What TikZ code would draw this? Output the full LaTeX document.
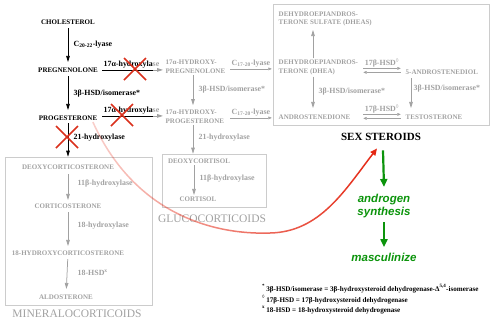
\documentclass[tikz,border=0pt]{standalone}
\usepackage{fontspec}
\setmainfont{Liberation Serif}
\setsansfont{Liberation Sans}
\usetikzlibrary{arrows.meta,fadings}

\definecolor{fadegrey}{gray}{0.63}
\definecolor{boxgrey}{gray}{0.8}
\definecolor{xred}{RGB}{218,48,28}
\definecolor{pathred}{RGB}{228,38,18}
\definecolor{andgreen}{RGB}{12,148,12}

% red path starts pale and ends fully red
\tikzfading[name=pinkfade, left color=transparent!78, right color=transparent!0]

% red cross over a blocked enzyme
\newcommand{\blocked}[1]{%
  \draw[xline] (#1) ++(-11,-11) -- ++(22,22);
  \draw[xline] (#1) ++(11,-11) -- ++(-22,22);}

\begin{document}
\begin{tikzpicture}[x=1pt,y=-1pt,
  every node/.style={inner sep=1.5pt},
  steroid/.style={font=\fontsize{7}{8.6}\selectfont\bfseries},
  enz/.style={font=\fontsize{7.9}{9}\selectfont\bfseries},
  dim/.style={text=fadegrey},
  box/.style={draw=boxgrey, line width=0.7pt, inner sep=0pt},
  family/.style={font=\fontsize{11.5}{12}\selectfont, text=fadegrey},
  conv/.style={-{Triangle[length=6pt,width=3.6pt]}, line width=0.75pt},
  offconv/.style={conv, draw=fadegrey},
  thinarrow/.style={-{Triangle[length=3.5pt,width=2.8pt]}, line width=0.5pt, draw=fadegrey},
  xline/.style={draw=xred, line width=1.6pt},
  grarrow/.style={-{Triangle[length=8pt,width=7pt]}, line width=2.2pt, draw=andgreen},
  green text/.style={font=\fontsize{11.5}{13}\selectfont\sffamily\bfseries\itshape, text=andgreen, align=center},
  note/.style={font=\fontsize{7.1}{8}\selectfont\bfseries, anchor=base west, inner sep=0pt}]
\useasboundingbox (0,0) rectangle (491,325);

% group boxes
\node[box, minimum width=147pt, minimum height=148pt] (minbox) at (78.5,231) {};
\node[box, minimum width=104pt, minimum height=53pt] (glubox) at (214,180.5) {};
\node[box, minimum width=216pt, minimum height=121pt] (sexbox) at (381,64.5) {};

% main pathway
\node[steroid] (chol) at (68,22) {CHOLESTEROL};
\node[steroid] (preg) at (68,70) {PREGNENOLONE};
\node[steroid] (prog) at (68,118) {PROGESTERONE};
\draw[conv, shorten <=2pt, shorten >=4pt] (chol) -- (preg);
\draw[conv, shorten <=2pt, shorten >=4pt] (preg) -- (prog);
\draw[conv, shorten <=1pt] (prog) -- (prog |- minbox.north);
\node[enz, anchor=west] (scc) at (72,45) {C\textsubscript{20-22}-lyase};
\node[enz, anchor=west] (hsd) at (72,94) {3β-HSD/isomerase*};
\node[enz, anchor=west] (cyp21) at (72,138) {21-hydroxylase};

% 17-hydroxylation
\node[enz, anchor=base west] (cypa) at (102,66.5) {17α-hydroxyla\textcolor{fadegrey}{se}};
\node[enz, anchor=base west] (cypb) at (102,112.5) {17α-hydroxyla\textcolor{fadegrey}{se}};
\node[steroid, dim, anchor=west, align=left] (ohpreg) at (164,67) {17α-HYDROXY-\\PREGNENOLONE};
\node[steroid, dim, anchor=west, align=left] (ohprog) at (164,116.5) {17α-HYDROXY-\\PROGESTERONE};
\draw[line width=0.75pt] (cypa.south west) -- ([xshift=-8pt]cypa.south east);
\draw[offconv] ([xshift=-8pt]cypa.south east) -- ([xshift=-1pt]cypa.south east -| ohpreg.west);
\draw[line width=0.75pt] (cypb.south west) -- ([xshift=-8pt]cypb.south east);
\draw[offconv] ([xshift=-8pt]cypb.south east) -- ([xshift=-1pt]cypb.south east -| ohprog.west);
\draw[offconv, shorten >=3pt] ([xshift=29pt]ohpreg.south west) -- ([xshift=29pt]ohprog.north west);
\node[enz, dim, anchor=west] at (197,90) {3β-HSD/isomerase*};
\draw[offconv] ([xshift=29pt]ohprog.south west) coordinate (g) -- (g |- glubox.north);
\node[enz, dim, anchor=west] at (197,138) {21-hydroxylase};

% 17,20-lyase
\node[enz, dim, anchor=base west] (lyasea) at (230,65.5) {C\textsubscript{17-20}-lyase};
\node[enz, dim, anchor=base west] (lyaseb) at (230,114.5) {C\textsubscript{17-20}-lyase};
\draw[thinarrow] (lyasea.south west) -- (lyasea.south east);
\draw[thinarrow] (lyaseb.south west) -- (lyaseb.south east);

% sex steroids
\node[steroid, dim, anchor=west, align=left] (dheas) at (277,19) {DEHYDROEPIANDROS-\\TERONE SULFATE (DHEAS)};
\node[steroid, dim, anchor=west, align=left] (dhea) at (277,67.5) {DEHYDROEPIANDROS-\\TERONE (DHEA)};
\node[steroid, dim, anchor=west] (andro) at (277,117) {ANDROSTENEDIONE};
\node[steroid, dim, anchor=west] (adiol) at (404,72) {5-ANDROSTENEDIOL};
\node[steroid, dim, anchor=west] (testo) at (404,117) {TESTOSTERONE};
\draw[offconv, shorten >=2pt] ([xshift=36pt]dhea.north west) -- ([xshift=36pt]dheas.south west);
\draw[offconv, shorten >=5pt] ([xshift=36pt]dhea.south west) -- ([xshift=36pt]andro.north west);
\node[enz, dim, anchor=west] at (317,92) {3β-HSD/isomerase*};
\draw[offconv, shorten <=2pt, shorten >=5pt] ([xshift=7pt]adiol.south west) -- ([xshift=7pt]testo.north west);
\node[enz, dim, anchor=west] at (412,89) {3β-HSD/isomerase*};
\node[enz, dim, anchor=base] (hsda) at (382,65) {17β-HSD\textsuperscript{◊}};
\node[enz, dim, anchor=base] (hsdb) at (382,111) {17β-HSD\textsuperscript{◊}};
\draw[thinarrow] (hsda.south west) -- (hsda.south east);
\draw[thinarrow] ([yshift=-4pt]hsda.south east) -- ([yshift=-4pt]hsda.south west);
\draw[thinarrow] (hsdb.south west) -- (hsdb.south east);
\draw[thinarrow] ([yshift=-4pt]hsdb.south east) -- ([yshift=-4pt]hsdb.south west);
\node[font=\fontsize{11}{12}\selectfont\bfseries] (sexst) at (381,137) {SEX STEROIDS};

% mineralocorticoids
\node[steroid, dim] (doc) at (68,167) {DEOXYCORTICOSTERONE};
\node[steroid, dim] (cort) at (68,206) {CORTICOSTERONE};
\node[steroid, dim] (ohc) at (68,253) {18-HYDROXYCORTICOSTERONE};
\node[steroid, dim] (aldo) at (66,297) {ALDOSTERONE};
\draw[offconv, shorten <=3pt, shorten >=2pt] (doc) -- (cort);
\draw[offconv, shorten <=2pt, shorten >=3pt] (cort) -- (ohc);
\draw[offconv, shorten <=2pt, shorten >=4pt] (ohc) -- (aldo);
\node[enz, dim, anchor=west] at (76,184) {11β-hydroxylase};
\node[enz, dim, anchor=west] at (76,226) {18-hydroxylase};
\node[enz, dim, anchor=west] at (76,273) {18-HSD\textsuperscript{x}};
\node[family] (minlab) at (77,314) {MINERALOCORTICOIDS};

% glucocorticoids
\node[steroid, dim] (dcl) at (199,161) {DEOXYCORTISOL};
\node[steroid, dim] (cortisol) at (198,199) {CORTISOL};
\draw[offconv] ([xshift=-5pt]dcl.south) -- ([xshift=-4pt]cortisol.north);
\node[enz, dim, anchor=west] at (198,179) {11β-hydroxylase};
\node[family] (glulab) at (212,219) {GLUCOCORTICOIDS};

% blocked steps
\coordinate (xa) at (135,69);
\coordinate (xb) at (122,115);
\coordinate (xc) at (67,137);
\blocked{xa}
\blocked{xb}
\blocked{xc}

% shunt to the sex steroids
\draw[pathred, line width=1.5pt, -{Triangle[length=7pt,width=6pt]}, path fading=pinkfade]
  ([xshift=-6pt]prog.south east) .. controls (135,215) and (215,235) .. (270,233)
  .. controls (320,232) and (345,190) .. ([xshift=-4pt,yshift=-6pt]sexst.south);

% outcome
\node[green text] (andsyn) at (384,206.5) {androgen\\synthesis};
\node[green text] (masc) at (384,257) {masculinize};
\draw[grarrow] ([xshift=2pt,yshift=-8pt]sexst.south) -- ([yshift=6pt]andsyn.north);
\draw[grarrow] ([yshift=-2pt]andsyn.south) -- ([yshift=4pt]masc.north);

% footnotes
\node[note] (fna) at (262,291) {\textsuperscript{*}\,3β-HSD/isomerase = 3β-hydroxysteroid dehydrogenase-Δ\textsuperscript{5,4}-isomerase};
\node[note] (fnb) at (262,302) {\textsuperscript{◊}\,17β-HSD = 17β-hydroxysteroid dehydrogenase};
\node[note] (fnc) at (262,312) {\textsuperscript{x}\,18-HSD = 18-hydroxysteroid dehydrogenase};
\end{tikzpicture}
\end{document}
